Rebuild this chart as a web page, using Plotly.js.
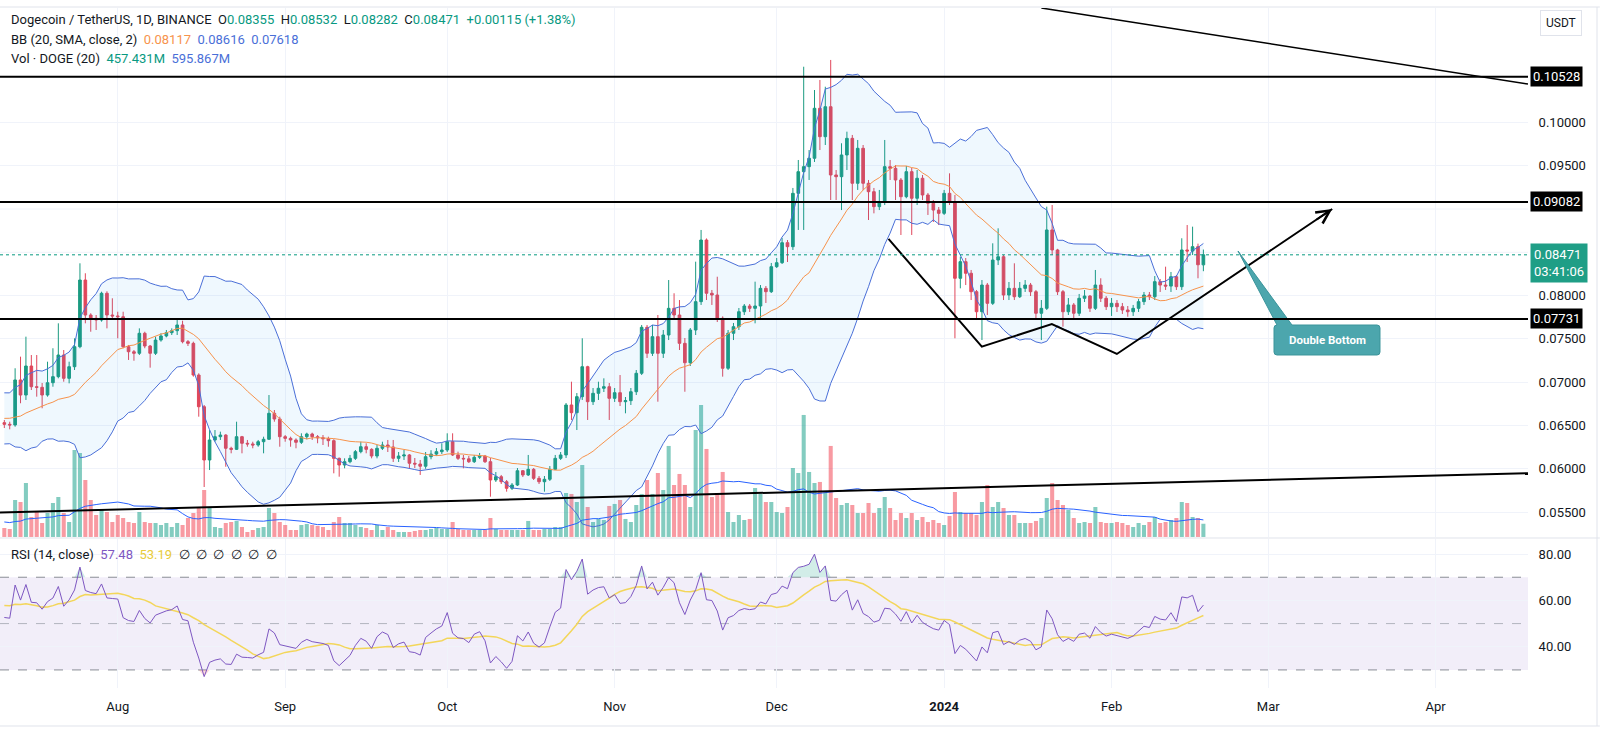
<!DOCTYPE html>
<html>
<head>
<meta charset="utf-8">
<script src="https://cdn.plot.ly/plotly-3.0.1.min.js"></script>
<style>
  html, body { margin: 0; padding: 0; background: #fff; }
  #chart { width: 1600px; height: 729px; }
</style>
</head>
<body>
<div id="chart"></div>
<script>
// DOGE / USDT daily candles, 2023-07-11 .. 2024-02-18 (one value per day)
var firstDay = [2023, 6, 11];

var openP = [
  // Jul
  .06533,.06514,.06506,.07026,.06852,.07187,.06948,.06941,.06852,.06994,.07064,.07314,.07045,.07179,.07410,.08180,.07776,.07738,.07718,.08027,.07776,
  // Aug
  .07765,.07756,.07410,.07352,.07334,.07565,.07418,.07334,.07487,.07534,.07572,.07595,.07661,.07468,.07449,.07083,.06717,.06102,.06333,.06371,.06390,.06237,.06225,.06371,.06295,.06287,.06275,.06313,.06341,.06641,.06575,
  // Sep
  .06371,.06352,.06333,.06306,.06371,.06402,.06371,.06359,.06348,.06325,.06121,.06044,.06082,.06121,.06198,.06255,.06225,.06148,.06237,.06275,.06252,.06121,.06148,.06160,.06064,.06055,.06030,.06140,.06170,.06198,
  // Oct
  .06217,.06313,.06160,.06121,.06115,.06082,.06133,.06148,.06082,.05871,.05909,.05851,.05775,.05813,.05978,.05929,.05994,.05890,.05851,.05879,.05994,.06121,.06160,.06737,.06648,.06833,.07179,.06775,.06872,.06930,.06948,
  // Nov
  .06814,.06879,.06775,.06787,.06890,.07103,.07634,.07334,.07526,.07334,.07545,.07853,.07776,.07449,.07225,.07603,.07930,.08642,.08027,.08007,.07738,.07161,.07565,.07641,.07814,.07880,.07853,.07880,.08084,.08045,
  // Dec
  .08334,.08380,.08611,.08565,.09181,.09431,.09489,.09586,.10163,.09835,.10181,.09393,.09373,.09624,.09816,.09297,.09701,.09297,.09200,.09027,.09084,.09489,.09470,.09335,.09142,.09431,.09124,.09355,.09162,.09066,.08988,
  // Jan
  .08950,.09181,.09084,.08200,.08392,.08258,.08045,.07814,.08122,.07911,.08411,.08449,.08007,.08084,.07987,.08084,.08122,.08045,.07796,.07853,.08758,.08527,.08045,.07814,.07892,.07796,.07969,.07995,.07853,.08122,.07969,
  // Feb
  .07872,.07911,.07872,.07834,.07814,.07853,.07930,.08007,.07987,.08161,.08122,.08110,.08218,.08103,.08527,.08515,.08565,.08355
];

var highP = [
  .06564,.06544,.07161,.07295,.07526,.07314,.07314,.06991,.07237,.07392,.07680,.07372,.07237,.07507,.08373,.08258,.07796,.07776,.08045,.08050,.07969,
  .07814,.07814,.07430,.07372,.07622,.07583,.07430,.07526,.07565,.07603,.07622,.07718,.07710,.07487,.07468,.07103,.06737,.06448,.06448,.06429,.06400,.06255,.06544,.06380,.06333,.06313,.06333,.06371,.06852,.06679,.06602,
  .06390,.06371,.06352,.06410,.06417,.06417,.06390,.06390,.06371,.06341,.06130,.06121,.06160,.06217,.06313,.06295,.06237,.06275,.06313,.06333,.06333,.06194,.06217,.06171,.06125,.06102,.06194,.06215,.06240,.06295,
  .06410,.06410,.06198,.06160,.06148,.06160,.06183,.06160,.06125,.05963,.05929,.05871,.05836,.06009,.05986,.06160,.06009,.05917,.05917,.06032,.06160,.06194,.06760,.07006,.06875,.07507,.07190,.06933,.07006,.07045,.06991,
  .06933,.07083,.06829,.06933,.07141,.07661,.07661,.07661,.07776,.07603,.08180,.08027,.07949,.07510,.07626,.08392,.08758,.08660,.08065,.08218,.07760,.07603,.07684,.07857,.07903,.07903,.08161,.08122,.08111,.08377,
  .08434,.08665,.08642,.09243,.09566,.10643,.09681,.10374,.10490,.10412,.10721,.09450,.09759,.09893,.09855,.09797,.09739,.09335,.09243,.09220,.09797,.09566,.09508,.09358,.09497,.09474,.09450,.09393,.09185,.09104,.09023,
  .09220,.09412,.09162,.08449,.08434,.08296,.08065,.08180,.08146,.08604,.08777,.08469,.08157,.08373,.08157,.08180,.08146,.08065,.07949,.09027,.09046,.08540,.08065,.07972,.07915,.08019,.08065,.08007,.08296,.08200,.07995,
  .07972,.07949,.07915,.07880,.07892,.07961,.08042,.08042,.08226,.08192,.08334,.08273,.08238,.08662,.08815,.08796,.08600,.08532
];

var lowP = [
  .06471,.06456,.06486,.06757,.06795,.06910,.06833,.06699,.06833,.06948,.07045,.07006,.06987,.07141,.07392,.07680,.07583,.07603,.07699,.07622,.07738,
  .07507,.07392,.07257,.07248,.07314,.07392,.07168,.07314,.07468,.07518,.07545,.07545,.07449,.07418,.07064,.06602,.05790,.05986,.06313,.06333,.06024,.06179,.06217,.06179,.06255,.06237,.06255,.06179,.06333,.06544,.06255,
  .06313,.06255,.06237,.06287,.06341,.06333,.06295,.06275,.06255,.05948,.05909,.06006,.06064,.06102,.06179,.06179,.06121,.06121,.06217,.06194,.06079,.06079,.06102,.06009,.06009,.05929,.06000,.06110,.06150,.06171,
  .06194,.06148,.06102,.06006,.06067,.06067,.06113,.06067,.05678,.05848,.05825,.05736,.05755,.05802,.05905,.05917,.05871,.05825,.05736,.05859,.05986,.06102,.06125,.06564,.06448,.06795,.06564,.06737,.06795,.06887,.06564,
  .06772,.06725,.06641,.06737,.06852,.07083,.07280,.07303,.06775,.07280,.07487,.07718,.07372,.06890,.07187,.07545,.07892,.07949,.07892,.07695,.07064,.07141,.07487,.07603,.07776,.07811,.07680,.07718,.07915,.08030,
  .08319,.08365,.08388,.08527,.08758,.08758,.09335,.09543,.09681,.09739,.09104,.09104,.08988,.09450,.09104,.09220,.09220,.08873,.08950,.08988,.09046,.09335,.09104,.08700,.09124,.08700,.09046,.09104,.08931,.08850,.08815,
  .08931,.09046,.07507,.08084,.08122,.07949,.07718,.07487,.07776,.07892,.08353,.07949,.07949,.07949,.07972,.08042,.07995,.07741,.07487,.07834,.08469,.08007,.07641,.07776,.07741,.07765,.07926,.07811,.07834,.07926,.07834,
  .07765,.07811,.07788,.07756,.07765,.07811,.07892,.07949,.07949,.08042,.08065,.08042,.08065,.08065,.08388,.08469,.08200,.08282
];

var closeP = [
  .06514,.06506,.07026,.06852,.07187,.06948,.06941,.06852,.06994,.07064,.07314,.07045,.07179,.07410,.08180,.07776,.07738,.07718,.08027,.07776,.07765,
  .07756,.07410,.07352,.07334,.07565,.07418,.07334,.07487,.07534,.07572,.07595,.07661,.07468,.07449,.07083,.06717,.06102,.06333,.06371,.06390,.06237,.06225,.06371,.06295,.06287,.06275,.06313,.06341,.06641,.06575,.06371,
  .06352,.06333,.06306,.06371,.06402,.06371,.06359,.06348,.06325,.06121,.06044,.06082,.06121,.06198,.06255,.06225,.06148,.06237,.06275,.06252,.06121,.06148,.06160,.06064,.06055,.06030,.06140,.06170,.06198,.06217,
  .06313,.06160,.06121,.06115,.06082,.06133,.06148,.06082,.05871,.05909,.05851,.05775,.05813,.05978,.05929,.05994,.05890,.05851,.05879,.05994,.06121,.06160,.06737,.06648,.06833,.07179,.06775,.06872,.06930,.06948,.06814,
  .06879,.06775,.06787,.06890,.07103,.07634,.07334,.07526,.07334,.07545,.07853,.07776,.07449,.07225,.07603,.07930,.08642,.08027,.08007,.07738,.07161,.07565,.07641,.07814,.07880,.07853,.07880,.08084,.08045,.08334,
  .08380,.08611,.08565,.09181,.09431,.09489,.09586,.10163,.09835,.10181,.09393,.09373,.09624,.09816,.09297,.09701,.09297,.09200,.09027,.09084,.09489,.09470,.09335,.09142,.09431,.09124,.09355,.09162,.09066,.08988,.08950,
  .09181,.09084,.08200,.08392,.08258,.08045,.07814,.08122,.07911,.08411,.08449,.08007,.08084,.07987,.08084,.08122,.08045,.07796,.07853,.08758,.08527,.08045,.07814,.07892,.07796,.07969,.07995,.07853,.08122,.07969,.07872,
  .07911,.07872,.07834,.07814,.07853,.07930,.08007,.07987,.08161,.08122,.08110,.08218,.08103,.08527,.08515,.08565,.08356,.08471
];

// volume, millions of DOGE
var volM = [
  311,277,1280,1211,1868,692,865,484,830,1176,1384,830,519,3010,2906,1972,1280,761,934,865,519,
  761,657,519,484,865,519,484,484,415,484,346,484,415,657,830,1003,1626,1003,346,311,484,519,554,346,173,242,311,346,1003,830,519,
  415,242,242,415,450,415,381,346,242,519,692,484,484,415,346,311,242,415,242,346,242,173,173,173,208,242,242,277,311,277,
  277,519,277,242,242,242,242,242,657,277,242,242,242,242,242,554,242,242,277,277,346,346,1522,1488,1211,2491,1038,519,623,588,1073,
  1142,1280,623,519,1107,1488,1972,1488,2214,1626,3149,1799,2180,1799,1038,3702,4567,3045,1384,1488,2249,865,519,761,588,623,1695,1488,1211,1211,
  865,830,1038,2387,2214,4221,2249,1868,1903,1522,3149,1349,1107,1176,1107,830,830,1176,830,1003,1384,1003,588,830,657,830,588,692,519,588,484,
  415,727,1557,865,830,830,761,1211,1799,1038,1211,1003,761,761,484,484,484,554,657,1349,1868,1280,1107,934,657,484,519,484,1038,519,484,
  484,519,484,415,346,484,415,519,692,484,519,588,657,1211,1176,692,657,457.431
];

// days before the left edge, only used to seed the BB / RSI / volume averages
var warmClose = [.0610,.0601,.0597,.0585,.0590,.0608,.0613,.0609,.0619,.0634,.0658,.0648,.0676,.0661,.0648,
                 .0636,.0651,.0629,.0648,.0664,.0668,.0677,.0689,.0683,.0667,.0651,.0658,.0656,.0650,.0653];
var warmVol = [700,560,900,480,420,520,610,450,540,480,520,600,640,520,480,450,420,400,380];

var tickDays = ['2023-08-01','2023-09-01','2023-10-01','2023-11-01','2023-12-01','2024-01-01','2024-02-01','2024-03-01','2024-04-01'];
var tickNames = ['Aug','Sep','Oct','Nov','Dec','<b>2024</b>','Feb','Mar','Apr'];
// 0.085 and 0.090 sit under the price boxes
var priceTicks = [0.055,0.060,0.065,0.070,0.075,0.080,0.095,0.100];
var gridPrices = [0.085, 0.090];
var rsiTicks = [40, 60, 80];

// drawings
var levelPrices = [0.10528, 0.09082, 0.07731];
var topLineDays = ['2024-01-19', '2024-04-18 02:24'];
var topLinePrices = [0.11321, 0.10443];
var baseLineDays = ['2023-07-10 04:48', '2024-04-18 02:24'];
var baseLinePrices = [0.05495, 0.05950];
var wDays = ['2023-12-21 16:48', '2024-01-07 23:30', '2024-01-20 22:33', '2024-02-01 23:30', '2024-03-12 20:24'];
var wPrices = [0.08654, 0.07410, 0.07672, 0.07326, 0.09000];

// legend texts as shown
var lastPrice = 0.08471, countdown = '03:41:06';
var bbLegend = ['0.08117', '0.08616', '0.07618'];
var volLegend = ['457.431M', '595.867M'];
var rsiLegend = ['57.48', '53.19'];

var upCol = '#1b9a80', dnCol = '#e0475b';

var days = closeP.map(function (c, i) {
  return new Date(Date.UTC(firstDay[0], firstDay[1], firstDay[2] + i)).toISOString().slice(0, 10);
});

// Bollinger (20, 2)
var allClose = warmClose.concat(closeP);
var off = warmClose.length;
var bbMid = [], bbUp = [], bbLo = [];
for (var j = 0; j < closeP.length; j++) {
  var k = j + off, s = 0, q = 0, m;
  for (m = k - 19; m <= k; m++) s += allClose[m];
  var mean = s / 20;
  for (m = k - 19; m <= k; m++) q += (allClose[m] - mean) * (allClose[m] - mean);
  var sd = Math.sqrt(q / 20);
  bbMid.push(mean); bbUp.push(mean + 2 * sd); bbLo.push(mean - 2 * sd);
}

// volume SMA 20
var allVol = warmVol.concat(volM);
var volMa = volM.map(function (v, j) {
  var s = 0;
  for (var m = j; m < j + 20; m++) s += allVol[m];
  return s / 20;
});

// RSI 14 (Wilder) and its SMA 14
var rsiAll = [];
var g = 0, l = 0;
for (var i = 1; i < allClose.length; i++) {
  var ch = allClose[i] - allClose[i - 1];
  if (i <= 14) {
    g += Math.max(ch, 0) / 14; l += Math.max(-ch, 0) / 14;
    rsiAll[i] = i === 14 ? 100 - 100 / (1 + g / l) : null;
  } else {
    g = (g * 13 + Math.max(ch, 0)) / 14; l = (l * 13 + Math.max(-ch, 0)) / 14;
    rsiAll[i] = 100 - 100 / (1 + g / l);
  }
}
var rsi = closeP.map(function (c, j) { return rsiAll[j + off]; });
var rsiMa = closeP.map(function (c, j) {
  var s = 0;
  for (var m = j + off - 13; m <= j + off; m++) s += rsiAll[m];
  return s / 14;
});
var obTop = rsi.map(function (v) { return Math.max(v, 70); });
var osBot = rsi.map(function (v) { return Math.min(v, 30); });

var volCols = closeP.map(function (c, i) {
  return c >= openP[i] ? 'rgba(8,153,129,0.5)' : 'rgba(242,54,69,0.5)';
});

var data = [
  { type: 'bar', x: days, y: volM, yaxis: 'y', marker: { color: volCols, line: { width: 0 } },
    width: 0.75 * 86400000 },
  { type: 'scatter', mode: 'lines', x: days, y: volMa, yaxis: 'y', line: { color: '#2962ff', width: 1 } },

  { type: 'scatter', mode: 'lines', x: days, y: bbLo, yaxis: 'y2', line: { color: '#4a6fd8', width: 1 } },
  { type: 'scatter', mode: 'lines', x: days, y: bbUp, yaxis: 'y2', line: { color: '#4a6fd8', width: 1 },
    fill: 'tonexty', fillcolor: 'rgba(33,150,243,0.07)' },
  { type: 'scatter', mode: 'lines', x: days, y: bbMid, yaxis: 'y2', line: { color: '#f7934c', width: 1 } },
  { type: 'candlestick', x: days, open: openP, high: highP, low: lowP, close: closeP, yaxis: 'y2',
    whiskerwidth: 0,
    increasing: { line: { color: upCol, width: 1 }, fillcolor: upCol },
    decreasing: { line: { color: dnCol, width: 1 }, fillcolor: dnCol } },
  { type: 'scatter', mode: 'lines', x: wDays, y: wPrices, yaxis: 'y2', line: { color: '#000', width: 2 } },

  { type: 'scatter', mode: 'lines', x: days, y: days.map(function () { return 70; }), yaxis: 'y3',
    line: { width: 0 } },
  { type: 'scatter', mode: 'lines', x: days, y: obTop, yaxis: 'y3', line: { width: 0 },
    fill: 'tonexty', fillcolor: 'rgba(8,153,129,0.18)' },
  { type: 'scatter', mode: 'lines', x: days, y: days.map(function () { return 30; }), yaxis: 'y3',
    line: { width: 0 } },
  { type: 'scatter', mode: 'lines', x: days, y: osBot, yaxis: 'y3', line: { width: 0 },
    fill: 'tonexty', fillcolor: 'rgba(242,54,69,0.18)' },
  { type: 'scatter', mode: 'lines', x: days, y: rsiMa, yaxis: 'y3', line: { color: '#f3d65a', width: 1.5 } },
  { type: 'scatter', mode: 'lines', x: days, y: rsi, yaxis: 'y3', line: { color: '#7e57c2', width: 1 } }
];

// plot area: x 0..1528 px, y 8..688 px
function PX(px) { return (px / 1528).toFixed(5); }
function PY(py) { return ((688 - py) / 680).toFixed(5); }

var callout = 'M' + PX(1238) + ',' + PY(251) + ' L' + PX(1292) + ',' + PY(325) +
  ' L' + PX(1377) + ',' + PY(325) + ' Q' + PX(1380) + ',' + PY(325) + ' ' + PX(1380) + ',' + PY(328) +
  ' L' + PX(1380) + ',' + PY(352) + ' Q' + PX(1380) + ',' + PY(355) + ' ' + PX(1377) + ',' + PY(355) +
  ' L' + PX(1277) + ',' + PY(355) + ' Q' + PX(1274) + ',' + PY(355) + ' ' + PX(1274) + ',' + PY(352) +
  ' L' + PX(1274) + ',' + PY(328) + ' Q' + PX(1274) + ',' + PY(325) + ' ' + PX(1277) + ',' + PY(325) + ' Z';

var shapes = [
  { type: 'rect', xref: 'paper', yref: 'y3', x0: 0, x1: 1, y0: 30, y1: 70, fillcolor: 'rgba(126,87,194,0.1)',
    line: { width: 0 }, layer: 'between' },
  { type: 'line', xref: 'paper', yref: 'y3', x0: 0, x1: 1, y0: 70, y1: 70, line: { color: '#8a8d96', width: 1, dash: 'dash' }, layer: 'between' },
  { type: 'line', xref: 'paper', yref: 'y3', x0: 0, x1: 1, y0: 50, y1: 50, line: { color: '#b2b5be', width: 1, dash: 'dash' }, layer: 'between' },
  { type: 'line', xref: 'paper', yref: 'y3', x0: 0, x1: 1, y0: 30, y1: 30, line: { color: '#8a8d96', width: 1, dash: 'dash' }, layer: 'between' },
  { type: 'line', xref: 'paper', yref: 'y2', x0: 0, x1: 1, y0: lastPrice, y1: lastPrice, line: { color: '#089981', width: 1, dash: 'dot' } },
  { type: 'line', xref: 'x', yref: 'y2', x0: topLineDays[0], x1: topLineDays[1], y0: topLinePrices[0], y1: topLinePrices[1],
    line: { color: '#000', width: 1.5 } },
  { type: 'line', xref: 'x', yref: 'y2', x0: baseLineDays[0], x1: baseLineDays[1], y0: baseLinePrices[0], y1: baseLinePrices[1],
    line: { color: '#000', width: 2 } },
  { type: 'path', xref: 'paper', yref: 'paper', path: callout, fillcolor: '#4ca6ad', line: { color: '#3b949b', width: 1 } },
  // frame lines
  { type: 'line', xref: 'paper', yref: 'paper', x0: 0, x1: 1.047, y0: PY(7), y1: PY(7), line: { color: '#e0e3eb', width: 1 } },
  { type: 'line', xref: 'paper', yref: 'paper', x0: 0, x1: 1.047, y0: PY(538), y1: PY(538), line: { color: '#e0e3eb', width: 1 } },
  { type: 'line', xref: 'paper', yref: 'paper', x0: 0, x1: 1.047, y0: PY(726), y1: PY(726), line: { color: '#e0e3eb', width: 1 } },
  { type: 'line', xref: 'paper', yref: 'paper', x0: PX(1597), x1: PX(1597), y0: PY(7), y1: PY(726), line: { color: '#e0e3eb', width: 1 } }
];
gridPrices.forEach(function (p) {
  shapes.push({ type: 'line', xref: 'paper', yref: 'y2', x0: 0, x1: 1, y0: p, y1: p, line: { color: '#f0f3fa', width: 1 }, layer: 'below' });
});
levelPrices.forEach(function (p) {
  shapes.push({ type: 'line', xref: 'paper', yref: 'y2', x0: 0, x1: 1, y0: p, y1: p, line: { color: '#000', width: 2 } });
});

function val(t, c) { return '<span style="color:' + c + '">' + t + '</span>'; }
var teal = '#089981', sp = '&nbsp;&nbsp;';
var n = closeP.length - 1;
var chg = closeP[n] - closeP[n - 1];
var row1 = 'Dogecoin / TetherUS, 1D, BINANCE' + sp +
  'O' + val(openP[n].toFixed(5), teal) + sp + 'H' + val(highP[n].toFixed(5), teal) + sp +
  'L' + val(lowP[n].toFixed(5), teal) + sp + 'C' + val(closeP[n].toFixed(5), teal) + sp +
  val('+' + chg.toFixed(5) + ' (+' + (chg / closeP[n - 1] * 100).toFixed(2) + '%)', teal);
var row2 = 'BB (20, SMA, close, 2)' + sp + val(bbLegend[0], '#f7934c') + sp + val(bbLegend[1], '#4a6fd8') + sp + val(bbLegend[2], '#4a6fd8');
var row3 = 'Vol · DOGE (20)' + sp + val(volLegend[0], teal) + sp + val(volLegend[1], '#4a6fd8');
var row4 = 'RSI (14, close)' + sp + val(rsiLegend[0], '#7e57c2') + sp + val(rsiLegend[1], '#e8cc3a') + sp +
  '∅&nbsp;&nbsp;∅&nbsp;&nbsp;∅&nbsp;&nbsp;∅&nbsp;&nbsp;∅&nbsp;&nbsp;∅';

var annotations = [
  { xref: 'paper', yref: 'paper', x: PX(9), y: PY(19), xanchor: 'left', yanchor: 'middle', showarrow: false, text: row1 },
  { xref: 'paper', yref: 'paper', x: PX(9), y: PY(39), xanchor: 'left', yanchor: 'middle', showarrow: false, text: row2 },
  { xref: 'paper', yref: 'paper', x: PX(9), y: PY(58), xanchor: 'left', yanchor: 'middle', showarrow: false, text: row3 },
  { xref: 'paper', yref: 'paper', x: PX(9), y: PY(555), xanchor: 'left', yanchor: 'middle', showarrow: false, text: row4 },
  { xref: 'paper', yref: 'paper', x: PX(1561), y: PY(23), xanchor: 'center', yanchor: 'middle', showarrow: false,
    text: 'USDT', bgcolor: '#fff', bordercolor: '#e0e3eb', borderwidth: 1, borderpad: 5, font: { size: 12 } },
  { xref: 'paper', yref: 'y2', x: 1, y: lastPrice, xanchor: 'left', yanchor: 'middle', xshift: 2, yshift: -8,
    showarrow: false, text: lastPrice.toFixed(5) + '<br>' + countdown, align: 'left',
    bgcolor: '#1f9e86', borderpad: 3, font: { color: '#fff', size: 13 } },
  { xref: 'paper', yref: 'paper', x: PX(1327), y: PY(340), xanchor: 'center', yanchor: 'middle', showarrow: false,
    text: '<b>Double Bottom</b>', font: { color: '#fff', size: 11.5 } },
  { xref: 'x', yref: 'y2', x: wDays[4], y: wPrices[4], ax: -17, ay: 11.5, showarrow: true, arrowhead: 5,
    arrowsize: 1.3, arrowwidth: 2, arrowcolor: '#000', standoff: 0, text: '' }
];
levelPrices.forEach(function (p) {
  annotations.push({ xref: 'paper', yref: 'y2', x: 1, y: p, xanchor: 'left', yanchor: 'middle', xshift: 2,
    showarrow: false, text: p.toFixed(5), bgcolor: '#000', borderpad: 2, font: { color: '#fff', size: 13 } });
});

var grid = '#f0f3fa';
var layout = {
  width: 1600, height: 729,
  margin: { l: 0, r: 72, t: 8, b: 41 },
  paper_bgcolor: '#fff', plot_bgcolor: '#fff',
  showlegend: false, hovermode: false,
  font: { family: 'Roboto, sans-serif', size: 13, color: '#131722' },
  xaxis: {
    type: 'date', range: ['2023-07-10 04:48', '2024-04-18 02:24'], anchor: 'y3',
    tickvals: tickDays, ticktext: tickNames, showgrid: true, gridcolor: grid,
    ticks: 'outside', ticklen: 6, tickcolor: 'rgba(0,0,0,0)', zeroline: false, showline: false,
    rangeslider: { visible: false }, fixedrange: true
  },
  yaxis: { domain: [0.2221, 1], range: [0, 18300], visible: false, fixedrange: true },
  yaxis2: {
    overlaying: 'y', side: 'right', range: [0.05213, 0.11321], tickvals: priceTicks, tickformat: '.5f',
    showgrid: true, gridcolor: grid, zeroline: false, ticks: 'outside', ticklen: 7,
    tickcolor: 'rgba(0,0,0,0)', fixedrange: true
  },
  yaxis3: {
    domain: [0, 0.2191], range: [22.2, 86.5], side: 'right', anchor: 'x', tickvals: rsiTicks, tickformat: '.2f',
    showgrid: true, gridcolor: grid, zeroline: false, ticks: 'outside', ticklen: 7,
    tickcolor: 'rgba(0,0,0,0)', fixedrange: true
  },
  shapes: shapes,
  annotations: annotations
};

Plotly.newPlot('chart', data, layout, { staticPlot: true, displayModeBar: false });
</script>
</body>
</html>
